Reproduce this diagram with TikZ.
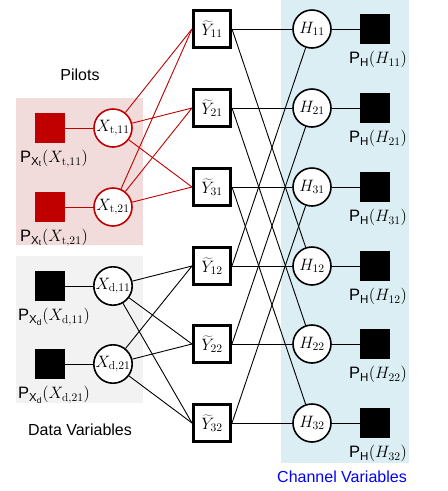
\documentclass[tikz,border=0pt]{standalone}
\usepackage{fix-cm}
\usepackage{fontspec}
\setsansfont{Liberation Sans}
\usetikzlibrary{positioning}
\definecolor{rojo}{RGB}{192,0,0}
\definecolor{fondorojo}{RGB}{242,220,219}
\definecolor{fondogris}{RGB}{242,242,242}
\definecolor{fondoazul}{RGB}{218,238,243}
\begin{document}
\begin{tikzpicture}[x=1pt, y=-1pt]
    \useasboundingbox (0,0) rectangle (448,491);

    % Definir estilos para factores y variables
    \tikzset{
      factor/.style={rectangle, fill=black, minimum size=30pt, inner sep=0},
      varnodo/.style={
        circle, draw, fill=white, line width=1.6pt,
        minimum size=38pt, inner sep=0, font=\fontsize{16.5}{18}\selectfont
      },
      observacion/.style={
        rectangle, draw, fill=white, line width=3pt,
        minimum size=37pt, inner sep=0, font=\fontsize{16.5}{18}\selectfont
      },
      etiqueta/.style={inner sep=0, font=\fontsize{16.5}{18}\selectfont},
      titulo/.style={font=\sffamily\fontsize{16}{19}\selectfont},
      arista/.style={line width=0.9pt}
    }

    % Fondos
    \fill[fondorojo] (16,98) rectangle (143,245);
    \fill[fondogris] (16,256) rectangle (143,403);
    \fill[fondoazul] (281,0) rectangle (409,463);

    % Titulos
    \node[titulo] (pilotos) at (80,75) {Pilots};
    \node[titulo] (datos) at (80,430) {Data Variables};
    \node[titulo, text=blue] (canal) at (342,477) {Channel Variables};

    % Observaciones y variables de canal
    \foreach \n/\fila in {11/29, 21/108, 31/187, 12/266, 22/344, 32/423} {
      \node[observacion] (y\n) at (212,\fila) {$\widetilde{Y}_{\n}$};
      \node[varnodo] (h\n) at (312,\fila) {$H_{\n}$};
      \node[factor] (ph\n) at (375,\fila) {};
      \node[etiqueta, below=7pt of ph\n, xshift=3pt] (lph\n) {$\mathsf{P}_{\mathsf{H}}(H_{\n})$};
    }

    % Pilotos
    \node[factor, fill=rojo] (pxt11) at (50,128) {};
    \node[factor, fill=rojo] (pxt21) at (50,207) {};
    \node[varnodo, draw=rojo] (xt11) at (113,128) {$X_{\mathrm{t},11}$};
    \node[varnodo, draw=rojo] (xt21) at (113,207) {$X_{\mathrm{t},21}$};
    \node[etiqueta, below=7pt of pxt11, xshift=4pt] (lpxt11) {$\mathsf{P}_{\mathsf{X}_\mathsf{t}}(X_{\mathrm{t},11})$};
    \node[etiqueta, below=7pt of pxt21, xshift=4pt] (lpxt21) {$\mathsf{P}_{\mathsf{X}_\mathsf{t}}(X_{\mathrm{t},21})$};

    % Datos
    \node[factor] (pxd11) at (50,286) {};
    \node[factor] (pxd21) at (50,364) {};
    \node[varnodo] (xd11) at (113,286) {$X_{\mathrm{d},11}$};
    \node[varnodo] (xd21) at (113,364) {$X_{\mathrm{d},21}$};
    \node[etiqueta, below=7pt of pxd11, xshift=4pt] (lpxd11) {$\mathsf{P}_{\mathsf{X}_\mathsf{d}}(X_{\mathrm{d},11})$};
    \node[etiqueta, below=7pt of pxd21, xshift=4pt] (lpxd21) {$\mathsf{P}_{\mathsf{X}_\mathsf{d}}(X_{\mathrm{d},21})$};

    % Aristas
    \foreach \x in {11,21} {
      \draw[arista, rojo] (pxt\x) -- (xt\x);
      \draw[arista] (pxd\x) -- (xd\x);
      \foreach \m in {11,21,31} \draw[arista, rojo] (xt\x) -- (y\m.west);
      \foreach \m in {12,22,32} \draw[arista] (xd\x) -- (y\m.west);
    }
    \foreach \a/\b in {11/12, 21/22, 31/32, 12/11, 22/21, 32/31} {
      \draw[arista] (y\a) -- (h\a);
      \draw[arista] (y\a.east) -- (h\b);
      \draw[arista] (h\a) -- (ph\a);
    }
  \end{tikzpicture}
\end{document}
